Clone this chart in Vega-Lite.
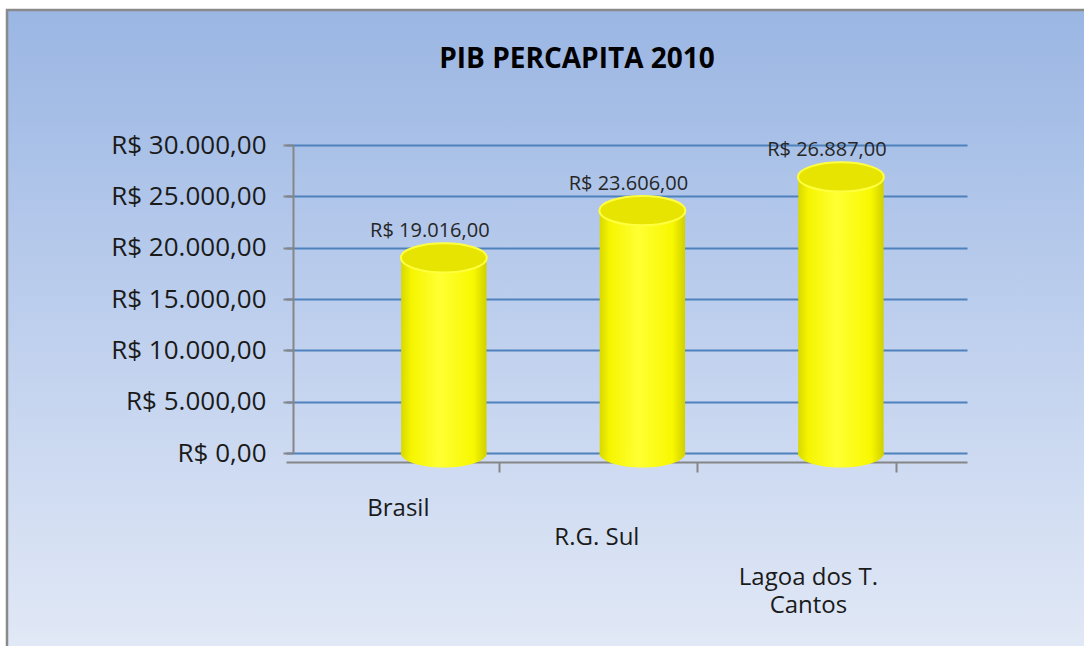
{
  "$schema": "https://vega.github.io/schema/vega-lite/v6.json",
  "width": 1090,
  "height": 645,
  "autosize": {"type": "none"},
  "padding": {"left": 7, "top": 10, "right": 0, "bottom": 0},
  "background": "white",
  "config": {
    "font": "Open Sans",
    "locale": {"number": {"decimal": ",", "thousands": ".", "grouping": [3], "currency": ["R$ ", ""]}},
    "view": {
      "fill": {"gradient": "linear", "x1": 0, "y1": 0, "x2": 0, "y2": 1,
        "stops": [{"offset": 0, "color": "#9ab6e3"}, {"offset": 0.5, "color": "#bfd0ee"}, {"offset": 1, "color": "#e2e9f6"}]},
      "stroke": "#8a8a8a",
      "strokeWidth": 2.5
    }
  },
  "title": {"text": "PIB PERCAPITA 2010", "font": "Open Sans", "fontSize": 28, "fontWeight": "bold", "color": "#000000", "anchor": "middle", "offset": -64, "dx": 25},
  "data": {"values": [
    {"regiao": "Brasil", "pib": 19016},
    {"regiao": "R.G. Sul", "pib": 23606},
    {"regiao": "Lagoa dos T. Cantos", "pib": 26887}
  ]},
  "encoding": {
    "x": {
      "field": "regiao", "type": "nominal", "sort": null,
      "scale": {"range": [279, 960], "paddingInner": 0.57, "paddingOuter": 0.5, "align": 0.58},
      "axis": {
        "title": null, "offset": -193, "domainColor": "#868686", "domainWidth": 2,
        "tickColor": "#868686", "tickWidth": 2, "tickSize": 10, "tickOffset": 55,
        "labelAngle": 0, "labelFont": "Open Sans", "labelFontSize": 24, "labelColor": "#1a1a1a",
        "labelLineHeight": 28, "labelBaseline": "top",
        "labelPadding": {"condition": [{"test": "datum.value == 'Brasil'", "value": 24}, {"test": "datum.value == 'R.G. Sul'", "value": 53}], "value": 93},
        "labelOffset": {"condition": [{"test": "datum.value == 'Brasil'", "value": -101}, {"test": "datum.value == 'R.G. Sul'", "value": -101}], "value": -88},
        "labelExpr": "datum.value == 'Lagoa dos T. Cantos' ? ['Lagoa dos T.', 'Cantos'] : datum.label"
      }
    }
  },
  "layer": [
    {
      "mark": {"type": "point", "filled": true, "opacity": 1, "size": 7396,
        "shape": "M -1 0 A 1 0.34 0 1 1 1 0 A 1 0.34 0 1 1 -1 0 Z",
        "fill": {"gradient": "linear", "x1": 0, "x2": 1, "y1": 0, "y2": 0,
          "stops": [{"offset": 0, "color": "#d8d800"}, {"offset": 0.12, "color": "#f5f500"}, {"offset": 0.45, "color": "#ffff33"}, {"offset": 0.85, "color": "#f8f800"}, {"offset": 1, "color": "#d0d000"}]}},
      "encoding": {"y": {"datum": 0, "type": "quantitative", "scale": {"domain": [0, 30000], "range": [443, 135]}}}
    },
    {
      "mark": {"type": "bar",
        "fill": {"gradient": "linear", "x1": 0, "x2": 1, "y1": 0, "y2": 0,
          "stops": [{"offset": 0, "color": "#d8d800"}, {"offset": 0.12, "color": "#f5f500"}, {"offset": 0.45, "color": "#ffff33"}, {"offset": 0.85, "color": "#f8f800"}, {"offset": 1, "color": "#d0d000"}]}},
      "encoding": {
        "y": {"field": "pib", "type": "quantitative",
          "scale": {"domain": [0, 30000], "range": [443, 135]},
          "axis": {
            "title": null, "values": [0, 5000, 10000, 15000, 20000, 25000, 30000],
            "format": "$,.2f", "offset": -286,
            "domainColor": "#868686", "domainWidth": 2,
            "tickColor": "#868686", "tickWidth": 2, "tickSize": 10,
            "labelFont": "Open Sans", "labelFontSize": 26, "labelColor": "#1a1a1a", "labelPadding": 17,
            "grid": true, "gridColor": "#4f81bd", "gridWidth": 2
          }
        },
        "y2": {"datum": 0}
      }
    },
    {
      "mark": {"type": "point", "filled": true, "opacity": 1, "size": 7396,
        "shape": "M -1 0 A 1 0.34 0 1 1 1 0 A 1 0.34 0 1 1 -1 0 Z",
        "fill": "#e6e400", "stroke": "#ffff40", "strokeWidth": 2},
      "encoding": {"y": {"field": "pib", "type": "quantitative"}}
    },
    {
      "mark": {"type": "text", "font": "Open Sans", "fontSize": 20, "color": "#262626", "dy": -27, "dx": -14},
      "encoding": {
        "y": {"field": "pib", "type": "quantitative"},
        "text": {"field": "pib", "type": "quantitative", "format": "$,.2f"}
      }
    }
  ]
}
